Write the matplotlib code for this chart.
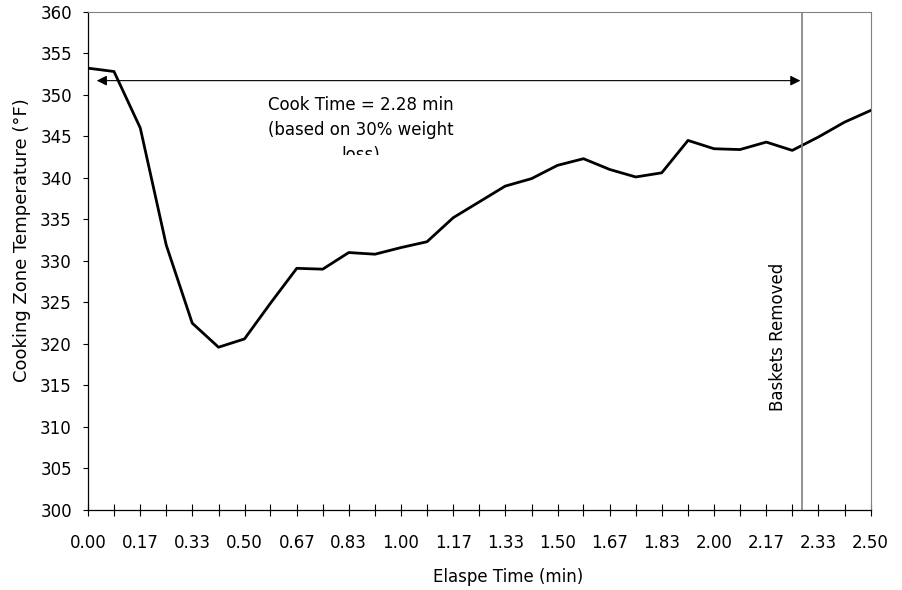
import matplotlib
matplotlib.use("Agg")
import matplotlib.pyplot as plt
from matplotlib.transforms import Bbox, TransformedBbox

# elapsed time (min), one reading every 5 s
elapsed = [0.000, 0.083, 0.167, 0.250, 0.333, 0.417, 0.500, 0.583, 0.667, 0.750,
           0.833, 0.917, 1.000, 1.083, 1.167, 1.250, 1.333, 1.417, 1.500, 1.583,
           1.667, 1.750, 1.833, 1.917, 2.000, 2.083, 2.167, 2.250, 2.333, 2.417,
           2.500]
# cooking zone temperature (F)
temps = [353.2, 352.8, 346.0, 331.9, 322.5, 319.6, 320.6, 324.9, 329.1, 329.0,
         331.0, 330.8, 331.6, 332.3, 335.2, 337.1, 339.0, 339.9, 341.5, 342.3,
         341.0, 340.1, 340.6, 344.5, 343.5, 343.4, 344.3, 343.3, 344.9, 346.7,
         348.1]
tick_labels = ["0.00", "0.17", "0.33", "0.50", "0.67", "0.83", "1.00", "1.17",
               "1.33", "1.50", "1.67", "1.83", "2.00", "2.17", "2.33", "2.50"]
cook_time = 2.28
arrow_start = 0.028
arrow_end = 2.276
arrow_y = 351.7

plt.rcParams["font.family"] = ["DejaVu Sans"]

fig = plt.figure(figsize=(9.02, 5.90), dpi=100)
ax = fig.add_axes([88 / 902, 1 - 510 / 590, (870.5 - 88) / 902, (510 - 11.7) / 590])

ax.plot(elapsed, temps, color="black", lw=2)
ax.set_xlim(0, 2.5)
ax.set_ylim(300, 360)
ax.set_yticks(range(300, 361, 5))
ax.set_xticks(elapsed[::2])
ax.set_xticklabels(tick_labels)
ax.set_xticks(elapsed[1::2], minor=True)
ax.tick_params(axis="x", which="both", direction="inout", length=8, width=0.8,
               pad=13.5, labelsize=12)
ax.tick_params(axis="y", direction="out", length=3.6, width=0.8, pad=8, labelsize=12)
for s in ("top", "right"):
    ax.spines[s].set_color("#808080")
for s in ("left", "bottom"):
    ax.spines[s].set_linewidth(0.9)

# baskets removed marker
ax.axvline(cook_time, color="#808080", lw=1.2)
ax.text(2.206, 320.8, "Baskets Removed", rotation=90, ha="center", va="center",
        fontsize=12)

# cook time arrow + note (note box cuts off the last line)
ax.annotate("", xy=(arrow_end, arrow_y), xytext=(arrow_start, arrow_y),
            arrowprops=dict(arrowstyle="<|-|>,head_length=0.6,head_width=0.3",
                            color="black", lw=0.8, shrinkA=0, shrinkB=0,
                            mutation_scale=10))
note = ax.text(0.873, 345.75, "Cook Time = 2.28 min\n(based on 30% weight\nloss)",
               ha="center", va="center", multialignment="center", fontsize=12,
               linespacing=1.5, clip_on=True)
note.set_clip_box(TransformedBbox(Bbox([[0.3, 342.73], [1.5, 360]]), ax.transData))

fig.text(508 / 902, 1 - 577 / 590, "Elaspe Time (min)", ha="center", va="center",
         fontsize=12)
fig.text(22 / 902, 1 - 240 / 590, "Cooking Zone Temperature (°F)", rotation=90,
         ha="center", va="center", fontsize=13)

fig.savefig("out.png", dpi=100)
